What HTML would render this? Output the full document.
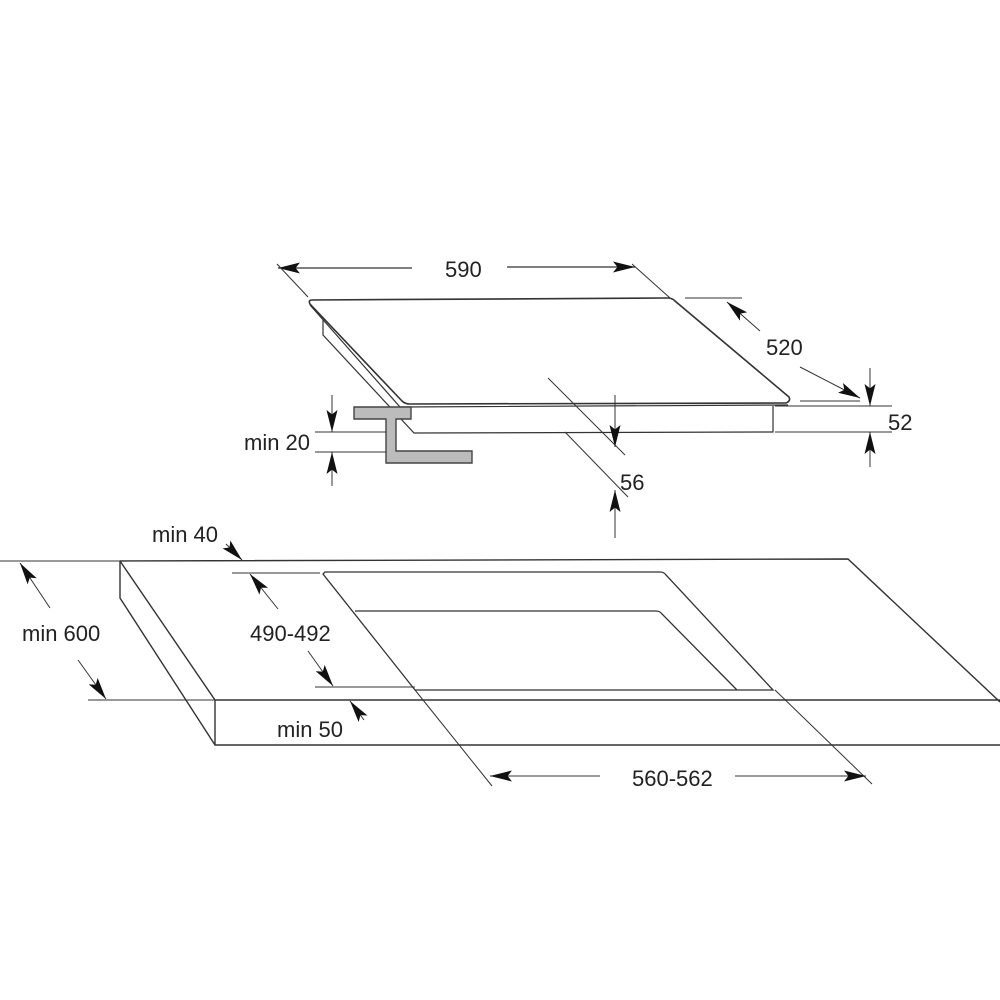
<!DOCTYPE html>
<html><head><style>
html,body{margin:0;padding:0;background:#fff;}
svg{display:block;}
text{font-family:"Liberation Sans",sans-serif;font-size:22px;fill:#222;}
</style></head><body>
<svg width="1000" height="1000" viewBox="0 0 1000 1000" xmlns="http://www.w3.org/2000/svg">
<defs>
<marker id="a" viewBox="0 0 10 10" preserveAspectRatio="none" refX="10" refY="5" markerWidth="22" markerHeight="11" orient="auto" markerUnits="userSpaceOnUse">
<path d="M0,0 L10,5 L0,10 L2,5 z" fill="#111"/></marker>
</defs>
<g fill="none" stroke="#333" stroke-width="1">
<!-- 590 -->
<line x1="412" y1="268" x2="278" y2="268" marker-end="url(#a)" stroke-width="1.3"/>
<line x1="507" y1="267" x2="635" y2="267" marker-end="url(#a)" stroke-width="1.3"/>
<line x1="277" y1="264" x2="308" y2="297"/>
<line x1="632" y1="264" x2="670" y2="298"/>
<!-- hob glass -->
<path d="M312,300 L668,298 Q672,298 675,301 L789,397 Q791,401 786,403 L410,404 Q405,404 402,401 L310,304 Q308,300 312,300 Z" stroke-width="1.6"/>
<path d="M310,305 L400,407 L788,405" stroke-width="1.2"/>
<path d="M323,320 L323,335 L414,433 L773,432 L773,406" stroke-width="1.2"/>
<!-- bracket -->
<path d="M354,407 L411,407 L411,419 L396,419 L396,451 L472,451 L472,463 L386,463 L386,419 L354,419 Z" fill="#bcbcbc" stroke="#444" stroke-width="1.4"/>
<!-- min 20 -->
<line x1="315" y1="432" x2="386" y2="432"/>
<line x1="315" y1="452" x2="386" y2="452"/>
<line x1="332" y1="395" x2="332" y2="432" marker-end="url(#a)"/>
<line x1="332" y1="486" x2="332" y2="452" marker-end="url(#a)"/>
<!-- 56 -->
<line x1="548" y1="378" x2="625" y2="455"/>
<line x1="565" y1="432" x2="628" y2="497"/>
<line x1="615" y1="395" x2="615" y2="447" marker-end="url(#a)"/>
<line x1="615" y1="538" x2="615" y2="490" marker-end="url(#a)"/>
<!-- 52 -->
<line x1="775" y1="406" x2="892" y2="406"/>
<line x1="775" y1="432" x2="892" y2="432"/>
<line x1="870" y1="368" x2="870" y2="406" marker-end="url(#a)"/>
<line x1="870" y1="467" x2="870" y2="432" marker-end="url(#a)"/>
<!-- 520 -->
<line x1="685" y1="298" x2="742" y2="298"/>
<line x1="760" y1="331" x2="727" y2="302" marker-end="url(#a)"/>
<line x1="800" y1="367" x2="860" y2="398" marker-end="url(#a)"/>
<line x1="800" y1="401" x2="860" y2="401"/>
<!-- counter -->
<path d="M120,561 L848,559 L1000,702 M120,561 L215,700 L1000,700 M215,700 L215,745 L1000,745 M120,561 L120,598 L215,745" stroke-width="1.4"/>
<!-- cutout -->
<path d="M325,572 L660,572 Q664,572 666,575 L773,690 L415,690 L323,574 Z" stroke-width="1.3"/>
<path d="M355,611 L656,611 Q660,611 662,614 L737,690" stroke-width="1.3"/>
<!-- 560-562 -->
<line x1="415" y1="690" x2="492" y2="786"/>
<line x1="775" y1="690" x2="872" y2="784"/>
<line x1="600" y1="776" x2="490" y2="776" marker-end="url(#a)"/>
<line x1="735" y1="776" x2="866" y2="776" marker-end="url(#a)"/>
<!-- min 600 -->
<line x1="0" y1="561" x2="120" y2="561"/>
<line x1="88" y1="700" x2="215" y2="700"/>
<line x1="50" y1="608" x2="20" y2="563" marker-end="url(#a)"/>
<line x1="78" y1="660" x2="106" y2="699" marker-end="url(#a)"/>
<!-- 490-492 -->
<line x1="232" y1="573" x2="320" y2="573"/>
<line x1="315" y1="687" x2="415" y2="687"/>
<line x1="278" y1="609" x2="250" y2="574" marker-end="url(#a)"/>
<line x1="308" y1="651" x2="333" y2="686" marker-end="url(#a)"/>
<!-- min 40 / min 50 -->
<line x1="226" y1="544" x2="242" y2="560" marker-end="url(#a)"/>
<line x1="364" y1="720" x2="350" y2="701" marker-end="url(#a)"/>
</g>
<text x="445" y="277">590</text>
<text x="766" y="355">520</text>
<text x="888" y="430">52</text>
<text x="620" y="490">56</text>
<text x="244" y="450">min 20</text>
<text x="152" y="542">min 40</text>
<text x="22" y="641">min 600</text>
<text x="250" y="641">490-492</text>
<text x="277" y="737">min 50</text>
<text x="632" y="786">560-562</text>
</svg>
</body></html>
